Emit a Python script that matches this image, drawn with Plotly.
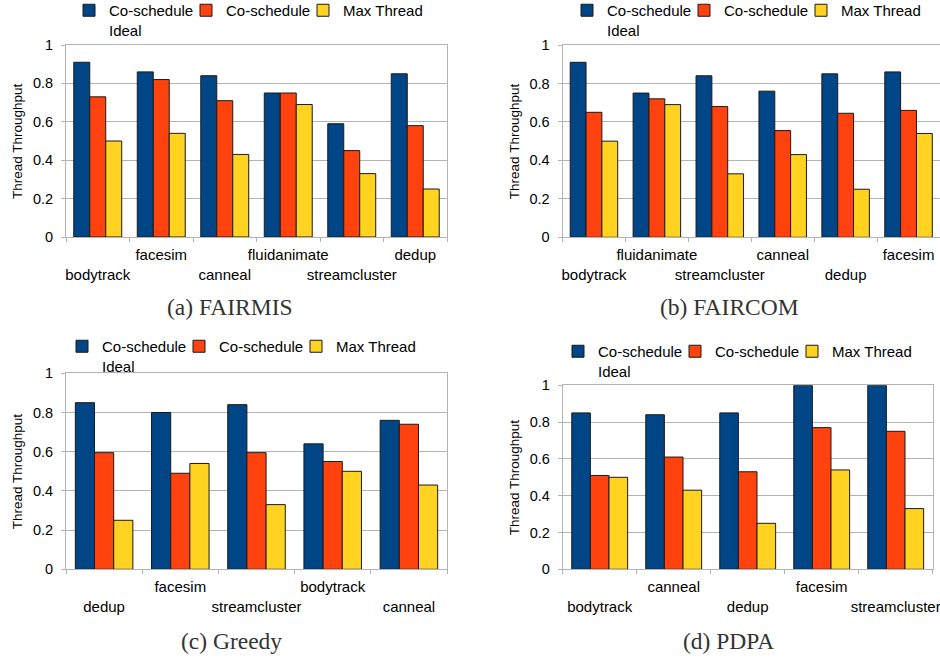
import plotly.graph_objects as go

series_names = ["Co-schedule<br>Ideal", "Co-schedule", "Max Thread"]
colors = ["#004586", "#FF420E", "#FFD320"]

# (a) FAIRMIS
a_cats = ["bodytrack", "facesim", "canneal", "fluidanimate", "streamcluster", "dedup"]
a_ideal = [0.91, 0.86, 0.84, 0.75, 0.59, 0.85]
a_cosched = [0.73, 0.82, 0.71, 0.75, 0.45, 0.58]
a_maxthr = [0.50, 0.54, 0.43, 0.69, 0.33, 0.25]

# (b) FAIRCOM
b_cats = ["bodytrack", "fluidanimate", "streamcluster", "canneal", "dedup", "facesim"]
b_ideal = [0.91, 0.75, 0.84, 0.76, 0.85, 0.86]
b_cosched = [0.65, 0.72, 0.68, 0.555, 0.645, 0.66]
b_maxthr = [0.50, 0.69, 0.33, 0.43, 0.25, 0.54]

# (c) Greedy
c_cats = ["dedup", "facesim", "streamcluster", "bodytrack", "canneal"]
c_ideal = [0.85, 0.80, 0.84, 0.64, 0.76]
c_cosched = [0.595, 0.49, 0.595, 0.55, 0.74]
c_maxthr = [0.25, 0.54, 0.33, 0.50, 0.43]

# (d) PDPA
d_cats = ["bodytrack", "canneal", "dedup", "facesim", "streamcluster"]
d_ideal = [0.85, 0.84, 0.85, 1.0, 1.0]
d_cosched = [0.51, 0.61, 0.53, 0.77, 0.75]
d_maxthr = [0.50, 0.43, 0.25, 0.54, 0.33]

captions = ["(a) FAIRMIS", "(b) FAIRCOM", "(c) Greedy", "(d) PDPA"]
y_ticks = [0, 0.2, 0.4, 0.6, 0.8, 1]

panels = [
    (a_cats, [a_ideal, a_cosched, a_maxthr]),
    (b_cats, [b_ideal, b_cosched, b_maxthr]),
    (c_cats, [c_ideal, c_cosched, c_maxthr]),
    (d_cats, [d_ideal, d_cosched, d_maxthr]),
]

W, H = 940, 658
def px(x): return x / W
def py(y): return 1 - y / H

# domains (pixel boxes: left, right, top, bottom)
boxes = [
    (66, 447, 45, 237),
    (562.5, 940, 45, 237.3),
    (66, 447, 373.3, 569.3),
    (562.7, 932.7, 385.3, 569.3),
]
legend_pos = [(69, -6), (567, -6), (62, 330), (558, 335)]
ytitle_x = [17, 514, 17, 514]
caption_pos = [(230, 307), (729, 307), (231, 641), (728, 641)]
entry_w = [72, 72, 85]

fig = go.Figure()
SANS = "Liberation Sans, Arial, sans-serif"
SERIF = "Liberation Serif, Times New Roman, serif"

for i, (cats, vals) in enumerate(panels):
    n = i + 1
    xa = "x" if n == 1 else f"x{n}"
    ya = "y" if n == 1 else f"y{n}"
    lg = "legend" if n == 1 else f"legend{n}"
    for s, v in enumerate(vals):
        fig.add_trace(go.Bar(
            x=cats, y=v, name=series_names[s], xaxis=xa, yaxis=ya, legend=lg,
            legendwidth=entry_w[s],
            marker=dict(color=colors[s], line=dict(color="#1a1a1a", width=1)),
            offsetgroup=str(s),
        ))
    l, r, t, b = boxes[i]
    ticktext = [("<br>" + c) if k % 2 == 0 else c for k, c in enumerate(cats)]
    axis_common = dict(showline=True, linecolor="#b3b3b3", linewidth=1, mirror=True,
                       automargin=False)
    fig.layout[f"xaxis{'' if n == 1 else n}"] = dict(
        domain=[px(l), px(r)], anchor=ya,
        tickmode="array", tickvals=cats, ticktext=ticktext, tickangle=0,
        tickson="boundaries", ticks="outside", ticklen=4, tickcolor="#b3b3b3",
        ticklabelstandoff=4,
        tickfont=dict(family=SANS, size=15, color="#000"),
        showgrid=False, **axis_common,
    )
    fig.layout[f"yaxis{'' if n == 1 else n}"] = dict(
        domain=[py(b), py(t)], anchor=xa, range=[0, 1],
        tickmode="array", tickvals=y_ticks, ticktext=["0", "0.2", "0.4", "0.6", "0.8", "1"],
        ticks="outside", ticklen=4, tickcolor="#b3b3b3", ticklabelstandoff=5,
        tickfont=dict(family=SANS, size=14.5, color="#000"),
        showgrid=True, gridcolor="#b3b3b3", gridwidth=1, zeroline=False,
        **axis_common,
    )
    lx, ly = legend_pos[i]
    fig.layout[lg] = dict(
        orientation="h", x=px(lx), y=py(ly), xanchor="left", yanchor="top",
        font=dict(family=SANS, size=15, color="#000"), valign="top",
        entrywidthmode="pixels", bgcolor="rgba(0,0,0,0)",
        traceorder="normal",
    )
    fig.add_annotation(
        x=px(ytitle_x[i]), y=py((t + b) / 2), xref="paper", yref="paper",
        xanchor="center", yanchor="middle",
        text="Thread Throughput", textangle=-90, showarrow=False,
        font=dict(family=SANS, size=13.5, color="#000"),
    )
    cx, cy = caption_pos[i]
    fig.add_annotation(
        x=px(cx), y=py(cy), xref="paper", yref="paper", text=captions[i],
        xanchor="center", yanchor="middle",
        showarrow=False, font=dict(family=SERIF, size=23.5, color="#333"),
    )

fig.update_layout(
    width=W, height=H, autosize=False,
    margin=dict(l=0, r=0, t=0, b=0, autoexpand=False),
    paper_bgcolor="white", plot_bgcolor="white",
    barmode="group", bargap=0.245, bargroupgap=0,
)
fig.write_html("out.html", config={"displayModeBar": False},
               post_script="document.body.style.margin='0px';")
